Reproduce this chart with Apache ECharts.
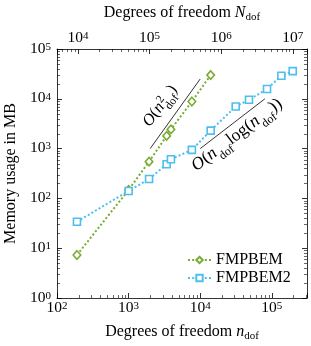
<!DOCTYPE html>
<html><head><meta charset="utf-8">
<script src="https://cdn.jsdelivr.net/npm/echarts@6/dist/echarts.min.js"></script>
<style>html,body{margin:0;padding:0;background:#fff}#c{width:311px;height:346px}</style>
</head><body><div id="c"></div>
<script>
// ---- data ----
const nDofFMPBEM  = [190, 1000, 1930, 3400, 3900, 7650, 14000];
const memFMPBEM   = [7.3, 148, 547, 1800, 2430, 8830, 30000];
const nDofFMPBEM2 = [190, 1000, 1930, 3400, 3900, 7650, 14000, 31300, 48000, 85700, 136000, 196000];
const memFMPBEM2  = [34, 141, 245, 485, 612, 942, 2300, 7000, 9550, 15700, 29000, 36000];
const refQuadN   = [2000, 10000];
const refQuadMem = [1000, 25000];
const refNlogN   = [10000, 80000];
const refNlogMem = [1000, 10000];
const xRange = [100, 310000];
const yRange = [1, 100000];
const N_PER_n = 51;             // N_dof / n_dof ratio of the top axis
const minorMult = [2,3,4,5,6,7,8,9];
const decadesBottom = [100, 1000, 10000, 100000];
const decadesTop = [1000, 10000, 100000, 1000000, 10000000];
const decadesY = [1, 10, 100, 1000, 10000];

const GREEN = '#77AC30', BLUE = '#4DBEEE';
const SERIF = 'Liberation Serif';

function minorVals(decs, lo, hi) {
  const out = [];
  decs.forEach(d => minorMult.forEach(m => { const v = d*m; if (v > lo && v < hi) out.push(v); }));
  return out;
}
const topRange = [xRange[0]*N_PER_n, xRange[1]*N_PER_n];
const minorBottom = minorVals(decadesBottom, xRange[0], xRange[1]);
const minorTop = minorVals(decadesTop, topRange[0], topRange[1]);
const minorY = minorVals(decadesY, yRange[0], yRange[1]);

function pow10Label(v) {
  const l = Math.log10(v), k = Math.round(l);
  if (Math.abs(l - k) > 1e-6) return '';
  return '{b|10}{s|' + k + '}';
}
const tickRich = {
  b: {fontFamily: SERIF, fontSize: 15.5, lineHeight: 15, verticalAlign: 'bottom', color: '#000'},
  s: {fontFamily: SERIF, fontSize: 11, lineHeight: 11, verticalAlign: 'top', padding: [0,0,6,0], color: '#000'}
};
const nameRich = {
  r: {fontFamily: SERIF, fontSize: 16, lineHeight: 16, verticalAlign: 'top', color: '#000'},
  i: {fontFamily: SERIF, fontSize: 16, lineHeight: 16, fontStyle: 'italic', verticalAlign: 'top', color: '#000'},
  sub: {fontFamily: SERIF, fontSize: 11, lineHeight: 11, verticalAlign: 'top', padding: [7,0,0,0], color: '#000'}
};
const axisLineStyle = {color: '#000', width: 0.8};

function xMinorSeries(axisIdx, vals, atTop) {
  return {
    type: 'custom', xAxisIndex: axisIdx, yAxisIndex: 0, silent: true, clip: false, z: 5,
    data: vals.map(v => [v, yRange[0]]),
    renderItem(params, api) {
      const cs = params.coordSys;
      const x = Math.round(api.coord([api.value(0), yRange[0]])[0]) + 0.5;
      const y0 = atTop ? cs.y : cs.y + cs.height;
      const y1 = atTop ? y0 + 3 : y0 - 3;
      return {type: 'line', shape: {x1: x, y1: y0, x2: x, y2: y1}, style: {stroke: '#000', lineWidth: 0.6}};
    }
  };
}
function yMinorSeries(vals) {
  return {
    type: 'custom', xAxisIndex: 0, yAxisIndex: 0, silent: true, clip: false, z: 5,
    data: vals.map(v => [xRange[0], v]),
    renderItem(params, api) {
      const cs = params.coordSys;
      const y = Math.round(api.coord([xRange[0], api.value(1)])[1]) + 0.5;
      return {type: 'group', children: [
        {type: 'line', shape: {x1: cs.x, y1: y, x2: cs.x + 3, y2: y}, style: {stroke: '#000', lineWidth: 0.6}},
        {type: 'line', shape: {x1: cs.x + cs.width, y1: y, x2: cs.x + cs.width - 3, y2: y}, style: {stroke: '#000', lineWidth: 0.6}}
      ]};
    }
  };
}

// ---- math annotation builder (positions measured with canvas) ----
const mctx = document.createElement('canvas').getContext('2d');
function tw(text, size, italic) { mctx.font = (italic ? 'italic ' : '') + size + 'px "' + SERIF + '"'; return mctx.measureText(text).width; }
function mathLabel(parts, x, y, rot, F, S) {
  const kids = []; let cx = 0;
  const mk = (t, px, py, size, italic) => kids.push({type: 'text', x: px, y: py,
    style: {text: t, fontFamily: SERIF, fontSize: size, fontStyle: italic ? 'italic' : 'normal', fill: '#000', verticalAlign: 'bottom', align: 'left'}});
  parts.forEach(p => {
    if (p.sup !== undefined || p.sub !== undefined) {
      let w = 0;
      if (p.sup !== undefined) { mk(p.sup, cx + 0.5, -6, S, false); w = Math.max(w, tw(p.sup, S) + 0.5); }
      if (p.sub !== undefined) { mk(p.sub, cx + 0.5, 5, S, false); w = Math.max(w, tw(p.sub, S) + 0.5); }
      cx += w;
    } else {
      mk(p.t, cx, 0, F, p.it); cx += tw(p.t, F, p.it);
    }
  });
  return {type: 'group', x: x, y: y, rotation: rot, children: kids, z: 10};
}

const chart = echarts.init(document.getElementById('c'), null, {renderer: 'canvas'});
chart.setOption({
  animation: false,
  backgroundColor: '#fff',
  grid: {left: 57, right: 4, top: 49, bottom: 48, containLabel: false, outerBoundsMode: 'none'},
  xAxis: [
    {type: 'log', logBase: 10, min: xRange[0], max: xRange[1], position: 'bottom',
     axisLine: {show: true, onZero: false, lineStyle: axisLineStyle},
     axisTick: {show: true, inside: true, length: 5, lineStyle: axisLineStyle},
     axisLabel: {formatter: pow10Label, rich: tickRich, margin: 3, showMinLabel: true, showMaxLabel: true, hideOverlap: false},
     splitLine: {show: false}, minorTick: {show: false},
     name: '{r|Degrees of freedom }{i|n}{sub|dof}', nameLocation: 'middle', nameGap: 26,
     nameTextStyle: {rich: nameRich}},
    {type: 'log', logBase: 10, min: topRange[0], max: topRange[1], position: 'top',
     axisLine: {show: true, onZero: false, lineStyle: axisLineStyle},
     axisTick: {show: true, inside: true, length: 5, lineStyle: axisLineStyle},
     axisLabel: {formatter: pow10Label, rich: tickRich, margin: 3, hideOverlap: false},
     splitLine: {show: false},
     name: '{r|Degrees of freedom }{i|N}{sub|dof}', nameLocation: 'middle', nameGap: 28,
     nameTextStyle: {rich: nameRich}},
  ],
  yAxis: [
    {type: 'log', logBase: 10, min: yRange[0], max: yRange[1], position: 'left',
     axisLine: {show: true, onZero: false, lineStyle: axisLineStyle},
     axisTick: {show: true, inside: true, length: 5, lineStyle: axisLineStyle},
     axisLabel: {formatter: pow10Label, rich: tickRich, margin: 6, hideOverlap: false},
     splitLine: {show: false},
     name: 'Memory usage in MB', nameLocation: 'middle', nameGap: 36,
     nameTextStyle: {fontFamily: SERIF, fontSize: 16, color: '#000'}},
    {type: 'log', logBase: 10, min: yRange[0], max: yRange[1], position: 'right',
     axisLine: {show: true, onZero: false, lineStyle: axisLineStyle},
     axisTick: {show: true, inside: true, length: 5, lineStyle: axisLineStyle},
     axisLabel: {show: false}, splitLine: {show: false}}
  ],
  legend: {
    data: ['FMPBEM', 'FMPBEM2'], orient: 'vertical', left: 187, top: 252, padding: 0,
    itemWidth: 23, itemHeight: 8, itemGap: 2,
    textStyle: {fontFamily: SERIF, fontSize: 16, color: '#000'},
    backgroundColor: 'transparent'
  },
  graphic: [
    mathLabel([{t: 'O', it: true}, {t: '('}, {t: 'n', it: true}, {sup: '2', sub: 'dof'}, {t: ')'}], 153, 130, 0.937, 16.5, 11.5),
    mathLabel([{t: 'O', it: true}, {t: '('}, {t: 'n', it: true}, {sub: 'dof'}, {t: 'log('}, {t: 'n', it: true}, {sub: 'dof'}, {t: '))'}], 199, 175, 0.648, 17.5, 12)
  ],
  series: [
    {name: 'FMPBEM', type: 'line', xAxisIndex: 0, yAxisIndex: 0,
     data: nDofFMPBEM.map((n, i) => [n, memFMPBEM[i]]),
     symbol: 'diamond', symbolSize: [7.5, 8.5], showAllSymbol: true,
     itemStyle: {color: '#fff', borderColor: GREEN, borderWidth: 1.6},
     lineStyle: {color: GREEN, width: 2, type: [2, 2.2]}, z: 3},
    {name: 'FMPBEM2', type: 'line', xAxisIndex: 0, yAxisIndex: 0,
     data: nDofFMPBEM2.map((n, i) => [n, memFMPBEM2[i]]),
     symbol: 'rect', symbolSize: 7, showAllSymbol: true,
     itemStyle: {color: '#fff', borderColor: BLUE, borderWidth: 1.6},
     lineStyle: {color: BLUE, width: 2, type: [2, 2.2]}, z: 3},
    {name: 'refQuad', type: 'line', xAxisIndex: 0, yAxisIndex: 0, symbol: 'none', silent: true,
     data: refQuadN.map((n, i) => [n, refQuadMem[i]]), lineStyle: {color: '#000', width: 0.8}},
    {name: 'refNlog', type: 'line', xAxisIndex: 0, yAxisIndex: 0, symbol: 'none', silent: true,
     data: refNlogN.map((n, i) => [n, refNlogMem[i]]), lineStyle: {color: '#000', width: 0.8}},
    xMinorSeries(0, minorBottom, false),
    xMinorSeries(1, minorTop, true),
    yMinorSeries(minorY)
  ]
});
</script></body></html>
